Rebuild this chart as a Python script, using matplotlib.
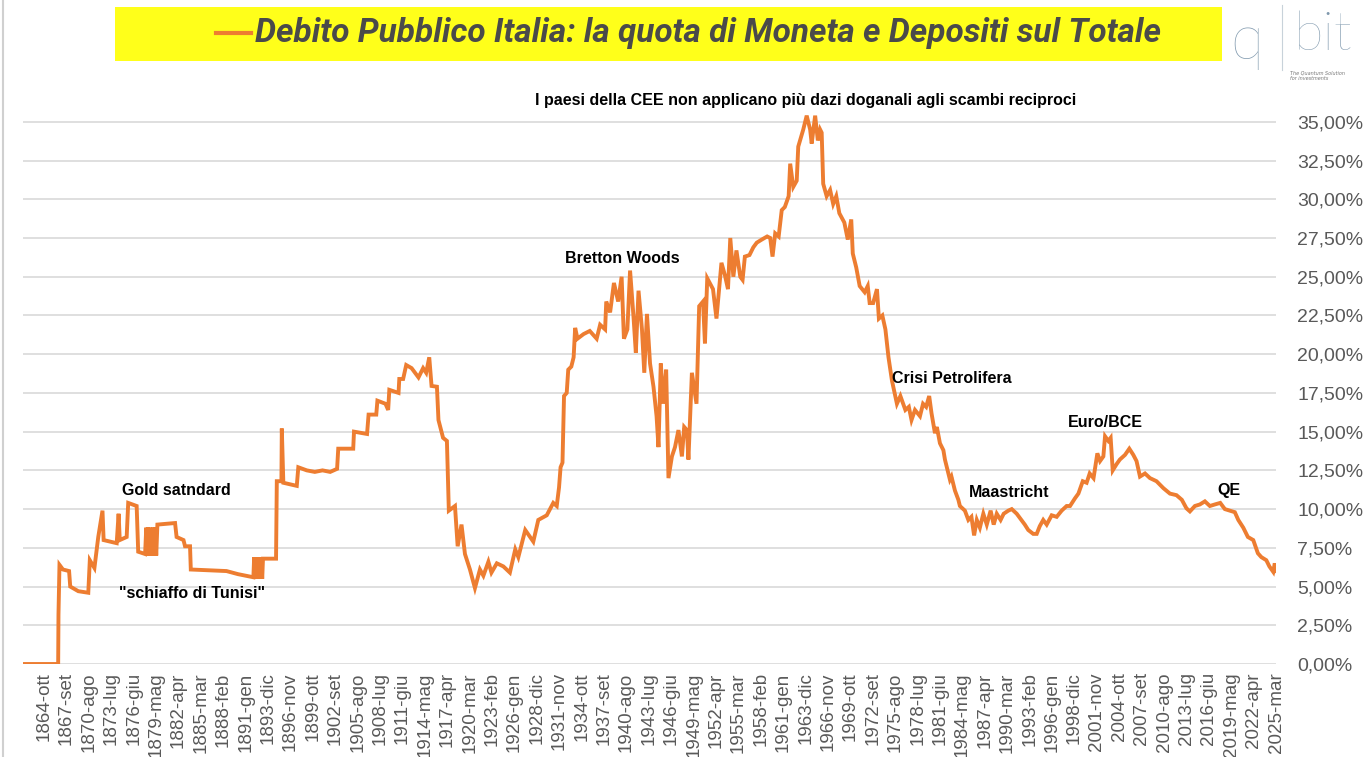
import matplotlib
matplotlib.use("Agg")
import matplotlib.pyplot as plt
from matplotlib.patches import Rectangle
from matplotlib.lines import Line2D
from matplotlib.ticker import FuncFormatter

# quota di moneta e depositi sul debito pubblico (%)
anni = [1862.0, 1866.58, 1866.62, 1866.75, 1867.2, 1868.0, 1868.15, 1869.2, 1870.5, 1870.7,
        1871.3, 1871.8, 1872.35, 1872.5, 1874.2, 1874.45, 1874.6, 1875.5, 1875.7, 1876.8,
        1877.0, 1877.9, 1878.05, 1878.15, 1878.3, 1878.45, 1878.6, 1878.75, 1878.9, 1879.05,
        1879.2, 1879.35, 1879.5, 1881.8, 1882.0, 1882.9, 1883.1, 1883.75, 1883.85, 1888.5,
        1890.0, 1892.0, 1892.1, 1892.25, 1892.4, 1892.55, 1892.7, 1892.85, 1893.0, 1893.15,
        1893.25, 1894.95, 1895.05, 1895.65, 1895.7, 1895.9, 1897.65, 1897.85, 1898.95, 1900.0,
        1901.0, 1902.0, 1902.9, 1903.05, 1905.0, 1905.1, 1906.8, 1907.0, 1908.0, 1908.15,
        1909.2, 1909.55, 1909.7, 1910.9, 1911.0, 1911.5, 1911.9, 1912.6, 1913.5, 1914.1,
        1914.5, 1914.9, 1915.2, 1915.9, 1916.1, 1916.7, 1917.2, 1917.45, 1918.25, 1918.6,
        1919.1, 1919.55, 1920.2, 1920.85, 1921.5, 1921.95, 1922.6, 1923.0, 1923.7, 1924.55,
        1925.4, 1926.1, 1926.5, 1927.4, 1928.45, 1929.1, 1930.2, 1931.05, 1931.5, 1931.8,
        1932.0, 1932.25, 1932.45, 1932.8, 1933.0, 1933.4, 1933.7, 1933.9, 1934.2, 1935.0,
        1935.8, 1936.7, 1937.15, 1937.8, 1937.95, 1938.45, 1938.95, 1939.5, 1939.95, 1940.25,
        1940.7, 1941.05, 1941.5, 1941.8, 1942.15, 1942.6, 1942.9, 1943.25, 1943.65, 1944.1,
        1944.5, 1944.75, 1945.05, 1945.4, 1945.75, 1946.05, 1946.5, 1946.9, 1947.35, 1947.8,
        1948.1, 1948.45, 1948.65, 1949.1, 1949.7, 1950.05, 1950.55, 1950.8, 1951.1, 1951.85,
        1952.3, 1952.95, 1953.4, 1953.8, 1954.1, 1954.5, 1954.9, 1955.4, 1955.7, 1956.0,
        1956.6, 1957.1, 1957.55, 1958.2, 1958.9, 1959.3, 1959.6, 1959.95, 1960.4, 1960.8,
        1961.2, 1961.7, 1961.9, 1962.3, 1962.75, 1962.95, 1963.6, 1964.05, 1964.5, 1964.7,
        1965.15, 1965.5, 1965.8, 1966.0, 1966.2, 1966.65, 1967.1, 1967.5, 1967.9, 1968.3,
        1968.95, 1969.4, 1969.85, 1970.05, 1970.5, 1970.95, 1971.6, 1972.0, 1972.25, 1972.7,
        1973.2, 1973.45, 1973.9, 1974.3, 1974.7, 1975.15, 1975.8, 1976.25, 1976.9, 1977.35,
        1977.7, 1978.15, 1978.8, 1979.2, 1979.6, 1980.0, 1980.3, 1980.75, 1981.0, 1981.4,
        1981.85, 1982.05, 1982.7, 1982.9, 1983.35, 1983.8, 1984.0, 1984.65, 1985.1, 1985.5,
        1985.85, 1986.2, 1986.6, 1987.05, 1987.5, 1988.0, 1988.4, 1988.8, 1989.3, 1989.7,
        1990.3, 1990.75, 1991.4, 1992.0, 1992.45, 1992.9, 1993.55, 1994.0, 1994.4, 1994.85,
        1995.3, 1995.95, 1996.6, 1997.25, 1997.9, 1998.34, 1998.99, 1999.43, 2000.0, 2000.5,
        2000.9, 2001.4, 2001.9, 2002.25, 2002.68, 2002.9, 2003.33, 2003.63, 2003.9, 2004.4,
        2004.83, 2005.5, 2006.06, 2006.58, 2007.0, 2007.45, 2008.1, 2008.75, 2009.6, 2010.5,
        2011.35, 2012.2, 2012.9, 2013.5, 2013.95, 2014.6, 2015.25, 2015.9, 2016.55, 2017.2,
        2017.9, 2018.5, 2019.15, 2019.8, 2020.25, 2020.9, 2021.5, 2022.2, 2022.8, 2023.25,
        2023.9, 2024.3, 2024.8, 2025.0, 2025.17]
quota = [0.0, 0.0, 3.2, 6.4, 6.1, 6.0, 5.0, 4.7, 4.6, 6.7,
         6.2, 8.2, 9.9, 8.0, 7.8, 9.7, 8.0, 8.2, 10.4, 10.2,
         7.25, 7.1, 8.8, 7.0, 8.8, 7.0, 8.8, 7.0, 8.8, 7.0,
         8.8, 7.0, 9.0, 9.1, 8.2, 8.0, 7.6, 7.6, 6.1, 6.0,
         5.8, 5.6, 6.9, 5.5, 6.9, 5.5, 6.9, 5.5, 6.9, 5.5,
         6.8, 6.8, 11.8, 11.8, 15.2, 11.7, 11.5, 12.7, 12.5, 12.4,
         12.5, 12.4, 12.6, 13.9, 13.9, 15.0, 14.85, 16.1, 16.1, 17.0,
         16.8, 16.4, 17.7, 17.5, 18.4, 18.4, 19.3, 19.1, 18.5, 19.1,
         18.8, 19.8, 17.95, 17.9, 15.75, 14.6, 14.4, 9.9, 10.2, 7.6,
         9.0, 7.1, 6.1, 4.9, 6.1, 5.7, 6.6, 5.9, 6.5, 6.3,
         5.9, 7.4, 6.9, 8.65, 7.9, 9.3, 9.6, 10.4, 10.2, 11.4,
         12.7, 13.0, 17.3, 17.5, 19.0, 19.2, 19.8, 21.7, 21.0, 21.3,
         21.5, 21.0, 21.9, 21.6, 23.4, 22.7, 24.6, 23.4, 25.0, 21.0,
         21.6, 25.4, 22.4, 20.1, 24.1, 21.6, 18.8, 22.6, 19.4, 17.9,
         16.0, 14.0, 19.4, 16.8, 19.0, 12.0, 13.4, 14.0, 15.1, 13.4,
         15.3, 15.1, 13.2, 18.8, 16.8, 23.1, 23.4, 20.7, 24.9, 24.2,
         22.3, 25.9, 25.1, 24.2, 27.5, 25.0, 26.7, 25.0, 24.8, 26.3,
         26.4, 26.9, 27.2, 27.4, 27.6, 27.5, 26.3, 27.8, 27.6, 29.3,
         29.5, 30.2, 32.3, 30.8, 31.2, 33.4, 34.5, 35.4, 34.5, 33.6,
         35.4, 33.8, 34.5, 34.3, 31.0, 30.2, 30.6, 29.7, 30.2, 29.1,
         28.5, 27.4, 28.7, 26.5, 25.6, 24.4, 24.0, 24.4, 23.3, 23.3,
         24.2, 22.3, 22.5, 21.6, 19.8, 18.3, 16.8, 17.3, 16.4, 16.6,
         15.75, 16.4, 16.0, 16.8, 16.6, 17.3, 16.2, 14.9, 15.3, 14.25,
         13.8, 13.2, 11.9, 12.1, 11.2, 10.6, 10.2, 9.9, 9.3, 9.5,
         8.3, 9.3, 8.8, 9.7, 9.0, 9.9, 9.0, 9.7, 9.3, 9.7,
         9.9, 10.0, 9.7, 9.3, 9.0, 8.65, 8.4, 8.4, 8.9, 9.3,
         9.0, 9.6, 9.5, 9.9, 10.2, 10.2, 10.7, 11.0, 11.8, 11.7,
         12.3, 12.0, 13.6, 13.1, 13.4, 14.7, 14.4, 14.6, 12.5, 12.9,
         13.2, 13.5, 13.9, 13.5, 13.1, 12.1, 12.3, 12.0, 11.8, 11.35,
         11.0, 10.9, 10.6, 10.05, 9.85, 10.2, 10.3, 10.5, 10.2, 10.3,
         10.4, 10.0, 9.9, 9.8, 9.3, 8.8, 8.2, 8.0, 7.15, 6.9,
         6.7, 6.3, 5.95, 6.5, 6.0]

etichette = ["1864-ott", "1867-set", "1870-ago", "1873-lug", "1876-giu", "1879-mag", "1882-apr",
             "1885-mar", "1888-feb", "1891-gen", "1893-dic", "1896-nov", "1899-ott", "1902-set",
             "1905-ago", "1908-lug", "1911-giu", "1914-mag", "1917-apr", "1920-mar", "1923-feb",
             "1926-gen", "1928-dic", "1931-nov", "1934-ott", "1937-set", "1940-ago", "1943-lug",
             "1946-giu", "1949-mag", "1952-apr", "1955-mar", "1958-feb", "1961-gen", "1963-dic",
             "1966-nov", "1969-ott", "1972-set", "1975-ago", "1978-lug", "1981-giu", "1984-mag",
             "1987-apr", "1990-mar", "1993-feb", "1996-gen", "1998-dic", "2001-nov", "2004-ott",
             "2007-set", "2010-ago", "2013-lug", "2016-giu", "2019-mag", "2022-apr", "2025-mar"]
mesi = ["gen", "feb", "mar", "apr", "mag", "giu", "lug", "ago", "set", "ott", "nov", "dic"]

eventi = ["I paesi della CEE non applicano più dazi doganali agli scambi reciproci",
          "Bretton Woods", "Gold satndard", "\"schiaffo di Tunisi\"", "Crisi Petrolifera",
          "Euro/BCE", "Maastricht", "QE"]
eventi_x = [1963.97, 1940.0, 1881.94, 1884.02, 1982.98, 2002.9, 1990.4, 2019.0]
eventi_y = [36.35, 26.15, 11.23, 4.52, 18.46, 15.56, 11.1, 11.17]

arancio = "#ED7D31"
grigio = "#595959"

fig = plt.figure(figsize=(13.7, 7.57), dpi=100)
fig.patch.set_facecolor("white")

ax = fig.add_axes([23 / 1370, 1 - 664 / 757, (1276.3 - 23) / 1370, (664 - 98.6) / 757])
ax.plot(anni, quota, color=arancio, lw=2.8, solid_joinstyle="miter")
ax.set_xlim(1862.0, 2025.2)
ax.set_ylim(0, 36.5)

tick_x = [int(e[:4]) + mesi.index(e[5:]) / 12 for e in etichette]
ax.set_xticks(tick_x)
ax.set_xticklabels(etichette, rotation=90, fontsize=13.5, color=grigio, family="Liberation Sans")
ax.set_yticks([i * 2.5 for i in range(15)])
ax.yaxis.set_major_formatter(FuncFormatter(lambda v, p: f"{v:.2f}%".replace(".", ",")))
ax.yaxis.tick_right()
ax.tick_params(axis="y", length=0, pad=15, labelsize=14, labelcolor=grigio)
ax.tick_params(axis="x", length=0, pad=6)
for lab in ax.get_yticklabels():
    lab.set_family("Liberation Sans")
ax.grid(axis="y", color="#d9d9d9", lw=1.2)
ax.set_axisbelow(True)
for s in ax.spines.values():
    s.set_visible(False)

for testo, x, y in zip(eventi, eventi_x, eventi_y):
    ax.text(x, y, testo, ha="center", va="center", fontsize=11.5, fontweight="bold",
            family="Liberation Sans", color="black", clip_on=False)

# titolo in riquadro giallo
fig.patches.append(Rectangle((115 / 1370, 1 - 61 / 757), (1222 - 115) / 1370, 54 / 757,
                             transform=fig.transFigure, facecolor="#FFFF1A", edgecolor="none"))
fig.lines.append(Line2D([216 / 1370, 251 / 1370], [1 - 33 / 757, 1 - 33 / 757],
                        transform=fig.transFigure, color=arancio, lw=3))
fig.text(255 / 1370, 1 - 33 / 757, "Debito Pubblico Italia: la quota di Moneta e Depositi sul Totale",
         ha="left", va="center", fontsize=24, fontweight="bold", style="italic",
         family="Roboto", color="#4a4a4a")

# logo
logo = "#7f98ad"
fig.text(1247 / 1370, 1 - 42 / 757, "q", ha="center", va="center", fontsize=44,
         family="Lato", fontweight="light", color=logo)
fig.lines.append(Line2D([1282 / 1370, 1282 / 1370], [1 - 5 / 757, 1 - 70 / 757],
                        transform=fig.transFigure, color="#c8d2da", lw=0.8))
fig.text(1294 / 1370, 1 - 36 / 757, "bit", ha="left", va="center", fontsize=39,
         family="Lato", fontweight="light", color=logo)
fig.text(1290 / 1370, 1 - 76 / 757, "The Quantum Solution\nfor investments", ha="left", va="center",
         fontsize=3.5, color="#777777", style="italic")
fig.lines.append(Line2D([3 / 1370, 3 / 1370], [0, 1], transform=fig.transFigure,
                        color="#d0d0d0", lw=1.5))

fig.savefig("out.png", dpi=100)
